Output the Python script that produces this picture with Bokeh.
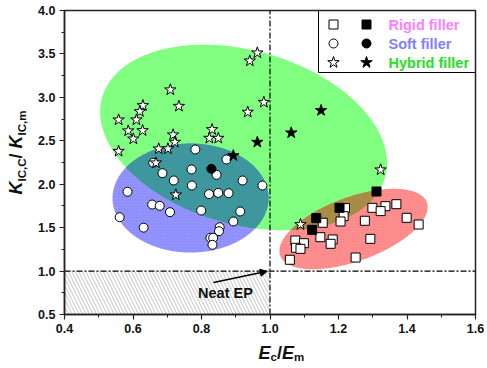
import numpy as np
from bokeh.plotting import figure
from bokeh.models import Label, Arrow, NormalHead, FixedTicker, PrintfTickFormatter
from bokeh.embed import file_html
from bokeh.resources import INLINE

# ---------------- data ----------------
rigid_open_x = [1.369, 1.337, 1.299, 1.323, 1.219, 1.215, 1.206, 1.154, 1.277, 1.399, 1.434,
                1.147, 1.183, 1.177, 1.293, 1.074, 1.099, 1.076, 1.089, 1.250, 1.058]
rigid_open_y = [1.770, 1.747, 1.728, 1.690, 1.725, 1.632, 1.571, 1.556, 1.579, 1.613, 1.536,
                1.390, 1.364, 1.314, 1.371, 1.352, 1.321, 1.268, 1.256, 1.156, 1.130]
rigid_fill_x = [1.311, 1.203, 1.135, 1.123]
rigid_fill_y = [1.916, 1.728, 1.609, 1.475]

soft_open_x = [0.782, 0.873, 0.659, 0.686, 0.771, 0.844, 0.719, 0.920, 0.978, 0.772, 0.584,
               0.822, 0.849, 0.879, 0.656, 0.678, 0.708, 0.799, 0.913, 0.893, 0.561, 0.631,
               0.853, 0.851, 0.826, 0.834, 0.832]
soft_open_y = [2.400, 2.285, 2.247, 2.127, 2.170, 2.108, 2.043, 2.043, 1.985, 1.985, 1.913,
               1.886, 1.900, 1.897, 1.766, 1.751, 1.678, 1.697, 1.686, 1.571, 1.620, 1.500,
               1.505, 1.459, 1.383, 1.383, 1.302]
soft_fill_x = [0.829]
soft_fill_y = [2.177]

hybrid_open_x = [0.963, 0.941, 0.982, 0.935, 0.709, 0.734, 0.629, 0.620, 0.610, 0.558, 0.586,
                 0.628, 0.601, 0.558, 0.717, 0.722, 0.675, 0.702, 0.831, 0.823, 0.849, 0.667,
                 0.725, 1.323, 1.089]
hybrid_open_y = [3.513, 3.420, 2.944, 2.830, 3.087, 2.898, 2.906, 2.837, 2.741, 2.741, 2.615,
                 2.618, 2.522, 2.380, 2.569, 2.484, 2.408, 2.408, 2.630, 2.530, 2.530, 2.246,
                 1.878, 2.166, 1.536]
hybrid_fill_x = [0.963, 0.893, 1.149, 1.062]
hybrid_fill_y = [2.484, 2.330, 2.849, 2.592]

neat_x, neat_y = 1.0, 1.0

x_ticks = [0.4, 0.6, 0.8, 1.0, 1.2, 1.4, 1.6]
x_minor = [0.5, 0.7, 0.9, 1.1, 1.3, 1.5]
y_ticks = [0.5, 1.0, 1.5, 2.0, 2.5, 3.0, 3.5, 4.0]
y_minor = [0.75, 1.25, 1.75, 2.25, 2.75, 3.25, 3.75]

legend_names = ["Rigid filler", "Soft filler", "Hybrid filler"]
legend_colors = ["#ff80ff", "#8080ff", "#22e022"]
legend_markers = ["square", "circle", "star"]

# ---------------- layout ----------------
XMIN, XMAX, YMIN, YMAX = 0.4, 1.6, 0.5, 4.0
W, H = 485, 364                     # canvas
BOX_L, BOX_R, BOX_T, BOX_B = 64, 475, 10, 314   # axes box in canvas px
SX = (BOX_R - BOX_L) / (XMAX - XMIN)
SY = (BOX_B - BOX_T) / (YMAX - YMIN)


def X(px):
    return XMIN + (px - BOX_L) / SX


def Y(py):
    return YMIN + (BOX_B - py) / SY


# region ellipses: centre (data), semi-axes (px), angle (deg)
ell_hybrid = dict(cx=0.923, cy=2.538, a=147, b=87, ang=-15.8)
ell_soft = dict(cx=0.768, cy=1.841, a=78, b=54.5, ang=0.0)
ell_rigid = dict(cx=1.244, cy=1.484, a=78, b=32, ang=20.0)


def ell_poly(e, n=720):
    t = np.linspace(0, 2 * np.pi, n, endpoint=False)
    th = np.radians(e["ang"])
    u, v = e["a"] * np.cos(t), e["b"] * np.sin(t)
    dx = u * np.cos(th) - v * np.sin(th)
    dy = u * np.sin(th) + v * np.cos(th)
    return e["cx"] + dx / SX, e["cy"] + dy / SY


def inside(e, xs, ys):
    th = np.radians(e["ang"])
    dx = (np.asarray(xs) - e["cx"]) * SX
    dy = (np.asarray(ys) - e["cy"]) * SY
    u = dx * np.cos(th) + dy * np.sin(th)
    v = -dx * np.sin(th) + dy * np.cos(th)
    return (u / e["a"]) ** 2 + (v / e["b"]) ** 2 <= 1.0


def intersect(e1, e2):
    x1, y1 = ell_poly(e1)
    x2, y2 = ell_poly(e2)
    m1 = inside(e2, x1, y1)
    m2 = inside(e1, x2, y2)
    xs = np.concatenate([x1[m1], x2[m2]])
    ys = np.concatenate([y1[m1], y2[m2]])
    mx, my = xs.mean(), ys.mean()
    order = np.argsort(np.arctan2((ys - my) * SY, (xs - mx) * SX))
    return xs[order], ys[order]


p = figure(width=W, height=H, x_range=(X(0), X(W)), y_range=(Y(H), Y(0)),
           output_backend="svg", toolbar_location=None,
           min_border=0, min_border_left=0, min_border_right=0,
           min_border_top=0, min_border_bottom=0)
p.grid.visible = False
p.outline_line_color = None
p.background_fill_color = "white"
p.border_fill_color = "white"

# ellipses
hx, hy = ell_poly(ell_hybrid)
p.patch(hx, hy, fill_color="#80ff80", line_color=None)
sx_, sy_ = ell_poly(ell_soft)
p.patch(sx_, sy_, fill_color="#9494ff", line_color=None,
        hatch_pattern="dot", hatch_color="#6a6ae0", hatch_alpha=0.35, hatch_scale=3, hatch_weight=1)
rx, ry = ell_poly(ell_rigid)
p.patch(rx, ry, fill_color="#ff8e8e", line_color=None,
        hatch_pattern="dot", hatch_color="#e06a6a", hatch_alpha=0.35, hatch_scale=3, hatch_weight=1)
ix, iy = intersect(ell_hybrid, ell_soft)
p.patch(ix, iy, fill_color="#3f989e", line_color=None,
        hatch_pattern="dot", hatch_color="#2a7a80", hatch_alpha=0.35, hatch_scale=3, hatch_weight=1)
jx, jy = intersect(ell_hybrid, ell_rigid)
p.patch(jx, jy, fill_color="#a88c46", line_color=None)

# neat EP region
p.quad(left=XMIN, right=neat_x, bottom=YMIN, top=neat_y, fill_alpha=0, line_color=None,
       hatch_pattern="\\", hatch_color="#b4b4b4", hatch_scale=7, hatch_weight=0.8)
p.segment(x0=[XMIN, neat_x], y0=[neat_y, YMIN], x1=[XMAX, neat_x], y1=[neat_y, YMAX],
          line_color="black", line_width=1.2, line_dash="6 2 2 2")

# data markers
mk = dict(line_color="black", line_width=1)
p.scatter(rigid_open_x, rigid_open_y, marker="square", size=9, fill_color="white", **mk)
p.scatter(rigid_fill_x, rigid_fill_y, marker="square", size=9, fill_color="black", **mk)
p.scatter(soft_open_x, soft_open_y, marker="circle", size=9, fill_color="white", **mk)
p.scatter(soft_fill_x, soft_fill_y, marker="circle", size=9, fill_color="black", **mk)
p.scatter(hybrid_open_x, hybrid_open_y, marker="star", size=12, fill_color="white", **mk)
p.scatter(hybrid_fill_x, hybrid_fill_y, marker="star", size=12, fill_color="black", **mk)

# annotation
p.add_layout(Arrow(end=NormalHead(size=7, fill_color="black", line_color="black"),
                   x_start=0.835, y_start=0.868, x_end=0.992, y_end=0.997,
                   line_width=1.5, line_color="black"))
p.add_layout(Label(x=0.87, y=0.753, text="Neat EP", text_align="center", text_baseline="middle",
                   text_font="Liberation Sans", text_font_style="bold", text_font_size="14.5px",
                   text_color="#111111"))

# legend (manual, two symbol columns)
p.quad(left=X(318), right=XMAX, top=YMAX, bottom=Y(72),
       fill_color="white", line_color="black", line_width=1)
row_py = [24, 43, 62]
for i, name in enumerate(legend_names):
    yy = Y(row_py[i])
    sz = 12 if legend_markers[i] == "star" else 9
    p.scatter([X(333)], [yy], marker=legend_markers[i], size=sz, fill_color="white", **mk)
    p.scatter([X(366)], [yy], marker=legend_markers[i], size=sz, fill_color="black", **mk)
    p.add_layout(Label(x=X(388), y=yy, text=name, text_baseline="middle", text_align="left",
                       text_font="Liberation Sans", text_font_style="bold",
                       text_font_size="14.5px", text_color=legend_colors[i]))

# plot box
p.quad(left=XMIN, right=XMAX, bottom=YMIN, top=YMAX, fill_alpha=0,
       line_color="#222222", line_width=1.5)

# axes (fixed at the box edges)
p.xaxis.fixed_location = YMIN
p.yaxis.fixed_location = XMIN
p.xaxis.bounds = (XMIN, XMAX)
p.yaxis.bounds = (YMIN, YMAX)
for ax in (p.xaxis[0], p.yaxis[0]):
    ax.major_label_text_font = "Liberation Sans"
    ax.major_label_text_font_style = "bold"
    ax.major_label_text_font_size = "12.5px"
    ax.major_label_text_color = "#111111"
    ax.axis_line_width = 1.5
    ax.axis_line_color = "#222222"
    ax.major_tick_line_color = "#222222"
    ax.minor_tick_line_color = "#222222"
    ax.major_tick_line_width = 1.2
    ax.major_tick_out = 5
    ax.major_tick_in = 0
    ax.minor_tick_out = 3
    ax.minor_tick_in = 0
    ax.major_label_standoff = 4
    ax.formatter = PrintfTickFormatter(format="%.1f")
p.xaxis.ticker = FixedTicker(ticks=x_ticks, minor_ticks=x_minor)
p.yaxis.ticker = FixedTicker(ticks=y_ticks, minor_ticks=y_minor)

# axis titles built from pieces (for subscripts)
ADV = {"K": 722, "I": 278, "C": 722, ",": 278, "m": 889, "/": 278, " ": 278, "E": 667, "c": 556}


def tw(s, fs):
    return sum(ADV[ch] for ch in s) * fs / 1000.0


ylab = [("K", 18, "bold italic", 0), ("IC,C", 11.5, "bold", 6), ("/ ", 18, "bold", 0),
        ("K", 18, "bold italic", 0), ("IC,m", 11.5, "bold", 6)]
total = sum(tw(s, fs) for s, fs, _, _ in ylab)
pos = 152 + total / 2.0  # canvas py where the title starts (bottom)
for s, fs, st, sh in ylab:
    p.add_layout(Label(x=X(15 + sh), y=Y(pos), text=s, angle=np.pi / 2,
                       text_align="left", text_baseline="alphabetic",
                       text_font="Liberation Sans", text_font_style=st,
                       text_font_size=f"{fs}px", text_color="#111111"))
    pos -= tw(s, fs)

xlab = [("E", 18, "bold italic", 0), ("c", 11.5, "bold", 4), ("/", 18, "bold", 0),
        ("E", 18, "bold italic", 0), ("m", 11.5, "bold", 4)]
pos = 258
for s, fs, st, sh in xlab:
    p.add_layout(Label(x=X(pos), y=Y(352 + sh), text=s,
                       text_align="left", text_baseline="alphabetic",
                       text_font="Liberation Sans", text_font_style=st,
                       text_font_size=f"{fs}px", text_color="#111111"))
    pos += tw(s, fs)

open("out.html", "w").write(file_html(p, INLINE))
